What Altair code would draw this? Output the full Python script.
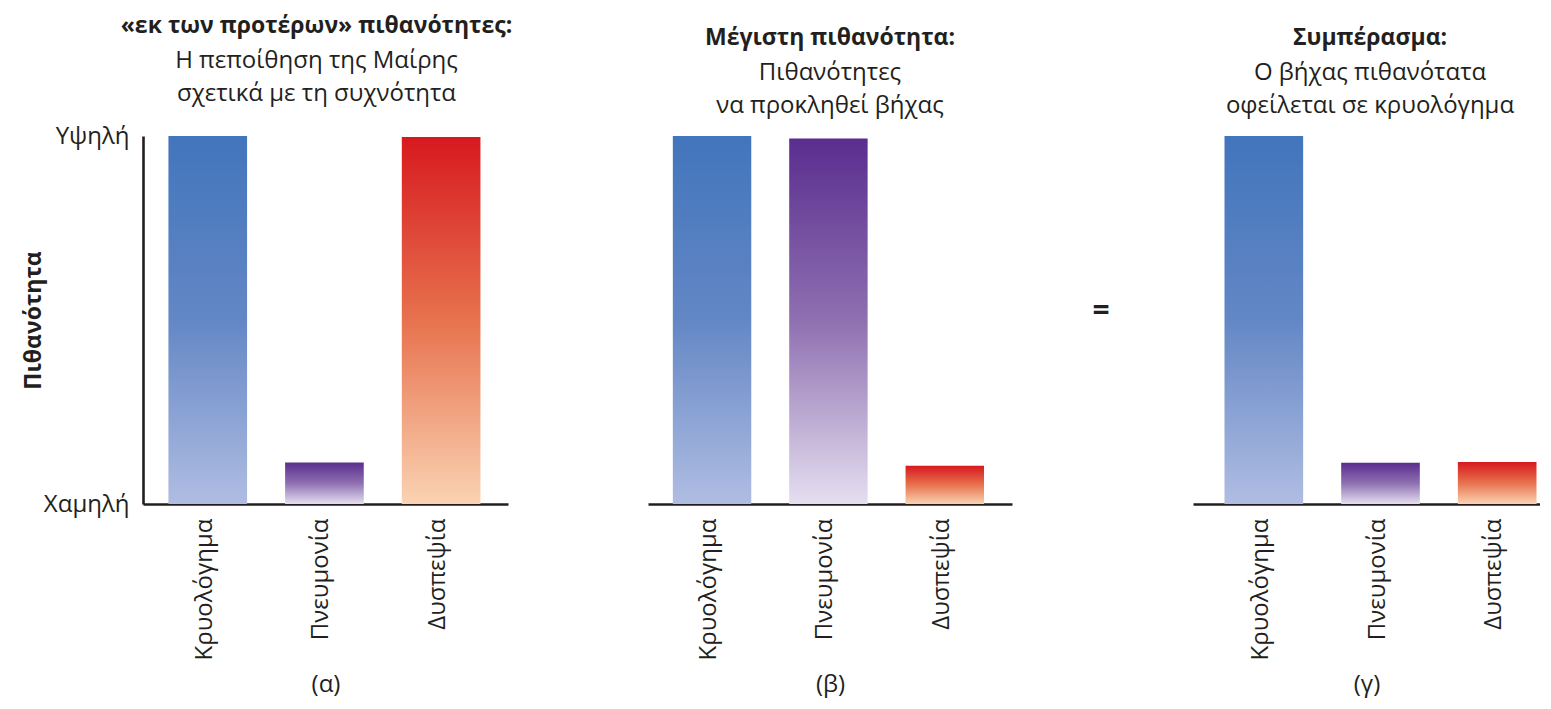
import altair as alt
import pandas as pd

# ---------------- data ----------------
categories = ["Κρυολόγημα", "Πνευμονία", "Δυσπεψία"]
prior_values = [1.0, 0.113, 0.997]        # (α) «εκ των προτέρων» πιθανότητες
likelihood_values = [1.0, 0.993, 0.104]   # (β) μέγιστη πιθανότητα
posterior_values = [1.0, 0.112, 0.114]    # (γ) συμπέρασμα

panel_bold = ["«εκ των προτέρων» πιθανότητες:", "Μέγιστη πιθανότητα:", "Συμπέρασμα:"]
panel_sub = [
    ["Η πεποίθηση της Μαίρης", "σχετικά  με τη συχνότητα"],
    ["Πιθανότητες", "να προκληθεί βήχας"],
    ["Ο βήχας πιθανότατα", "οφείλεται σε κρυολόγημα"],
]
panel_letters = ["(α)", "(β)", "(γ)"]
y_tick_values = [0, 1]
y_tick_labels = ["Χαμηλή", "Υψηλή"]
y_title = "Πιθανότητα"
equals_sign = ["="]

# gradient stops (top -> bottom) per category
gradient_stops = {
    "Κρυολόγημα": [(0.0, "#4275BC"), (0.5, "#6387C5"), (1.0, "#B0BDE2")],
    "Πνευμονία": [(0.0, "#5A2D8F"), (0.5, "#8F70B1"), (1.0, "#E5DFF0")],
    "Δυσπεψία": [(0.0, "#D7191F"), (0.5, "#E7724E"), (1.0, "#FAD3B3")],
}

FONT = "Open Sans"
INK = "#231F20"


def grad(cat):
    return alt.Gradient(
        gradient="linear", x1=0, x2=0, y1=0, y2=1,
        stops=[alt.GradientStop(offset=o, color=c) for o, c in gradient_stops[cat]],
    )


label_expr = " : ".join(
    [f"datum.value == {v} ? '{l}'" for v, l in zip(y_tick_values[1:], y_tick_labels[1:])]
    + [f"'{y_tick_labels[0]}'"]
)

PLOT_H = 368


def make_panel(i, values, width, scale_kw, show_y, title_dx, extra_layers=()):
    data = pd.DataFrame({"cat": categories, "value": values})
    x_enc = alt.X(
        "cat:N",
        scale=alt.Scale(domain=categories, **scale_kw),
        axis=alt.Axis(
            title=panel_letters[i],
            labelAngle=-90,
            labelPadding=14,
            labelOffset=-3,
            titlePadding=13,
            titleFontWeight="normal",
        ),
    )
    if show_y:
        y_axis = alt.Axis(
            values=y_tick_values,
            labelExpr=label_expr,
            labelPadding=14,
            title=y_title,
            titleFontWeight="bold",
            titleFontSize=23,
            titleAngle=270,
            titleX=-110,
            titleY=PLOT_H / 2,
            titleAlign="center",
            titleBaseline="middle",
        )
    else:
        y_axis = None
    y_enc = alt.Y("value:Q", scale=alt.Scale(domain=[0, 1], nice=False), axis=y_axis)
    layers = [
        alt.Chart(data)
        .transform_filter(alt.datum.cat == c)
        .mark_bar(color=grad(c))
        .encode(x=x_enc, y=y_enc)
        for c in categories
    ]
    layers += list(extra_layers)
    return alt.layer(*layers).properties(
        width=width,
        height=PLOT_H,
        title=alt.TitleParams(text=panel_bold[i], subtitle=panel_sub[i], dx=title_dx),
    )


eq_layer = (
    alt.Chart(pd.DataFrame({"t": equals_sign}))
    .mark_text(fontSize=30, fontWeight="bold", font=FONT, color=INK)
    .encode(text="t:N", x=alt.value(-51), y=alt.value(175))
)

pa = make_panel(0, prior_values, 365, dict(paddingInner=0.326, paddingOuter=0.227, align=0.48), True, -9)
pb = make_panel(1, likelihood_values, 364, dict(paddingInner=0.326, paddingOuter=0.227, align=0.47), False, 0)
pc = make_panel(
    2, posterior_values, 388,
    dict(range=[41, 388], paddingInner=0.326, paddingOuter=0.15, align=0.9),
    False, 24, extra_layers=[eq_layer],
)

chart = (
    alt.hconcat(pa, pb, pc, spacing=140, bounds="flush")
    .properties(padding={"left": 14, "top": 7, "right": 0, "bottom": 2})
    .configure_view(stroke=None)
    .configure_axis(
        domainColor=INK,
        domainWidth=2.6,
        ticks=False,
        grid=False,
        labelFont=FONT,
        labelFontSize=24,
        labelColor=INK,
        titleFont=FONT,
        titleFontSize=24,
        titleColor=INK,
    )
    .configure_title(
        font=FONT,
        fontSize=23,
        fontWeight="bold",
        color=INK,
        anchor="middle",
        subtitleFont=FONT,
        subtitleFontSize=24,
        subtitleColor=INK,
        subtitleLineHeight=33,
        subtitlePadding=11,
        offset=18,
    )
)

chart.save("out.html", embed_options={"renderer": "svg", "actions": False})
